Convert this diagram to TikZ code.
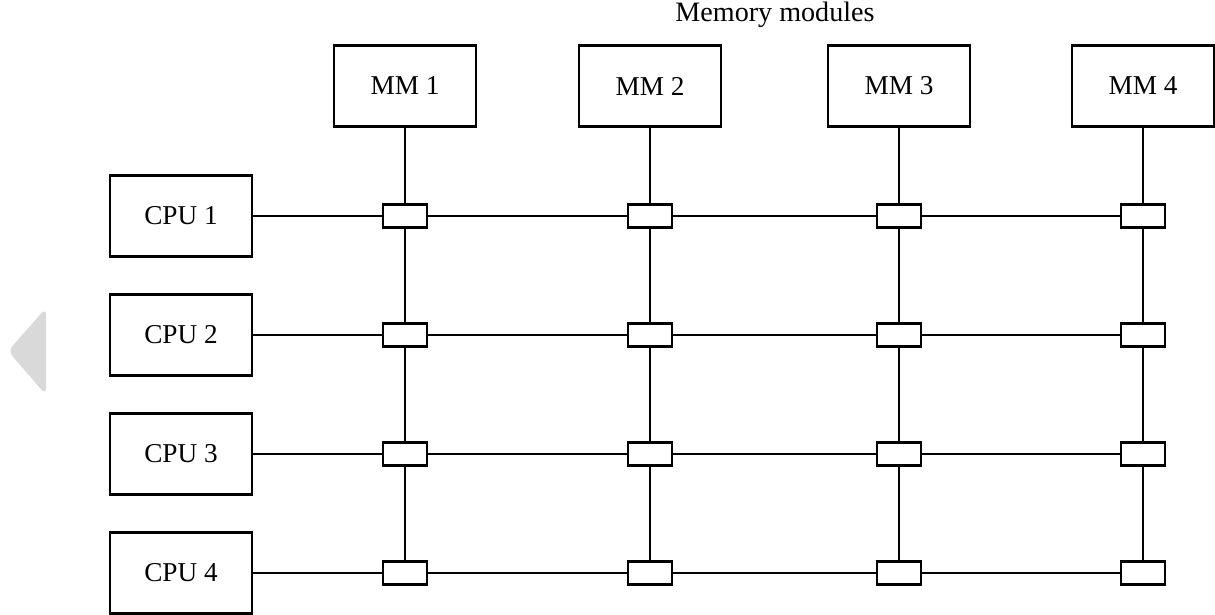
\documentclass[tikz,border=0pt]{standalone}
\usepackage{fontspec}
\setmainfont{Liberation Serif}
\usetikzlibrary{positioning}

\begin{document}
\begin{tikzpicture}[x=0.2mm,y=-0.2mm,
  unit/.style={draw,line width=1.4pt,minimum width=28.4mm,minimum height=16.2mm,inner sep=0pt,font=\fontsize{15.5}{18}\selectfont},
  xsw/.style={draw,line width=1.4pt,minimum width=8.7mm,minimum height=4.6mm,inner sep=0pt},
  wire/.style={line width=1.2pt}]
\useasboundingbox (0,0) rectangle (1215,614);
\fill[black!15,rounded corners=4pt] (46,308) -- (8,351) -- (46,395) -- cycle;
\node[font=\fontsize{16}{19}\selectfont] (title) at (775,15) {Memory modules};
% memory modules
\foreach \j/\x in {1/405,2/650,3/899,4/1143}
  \node[unit] (mm\j) at (\x,86) {MM \j};
% processors and crosspoint switches
\foreach \i/\y in {1/216,2/335,3/454,4/573}{
  \node[unit] (cpu\i) at (181,\y) {CPU \i};
  \foreach \j/\x in {1/405,2/650,3/899,4/1143}
    \node[xsw] (s\i\j) at (\x,\y) {};
}
\foreach \j in {1,...,4}
  \draw[wire] (mm\j) -- (s1\j) -- (s2\j) -- (s3\j) -- (s4\j);
\foreach \i in {1,...,4}
  \draw[wire] (cpu\i) -- (s\i1) -- (s\i2) -- (s\i3) -- (s\i4);
\end{tikzpicture}
\end{document}
